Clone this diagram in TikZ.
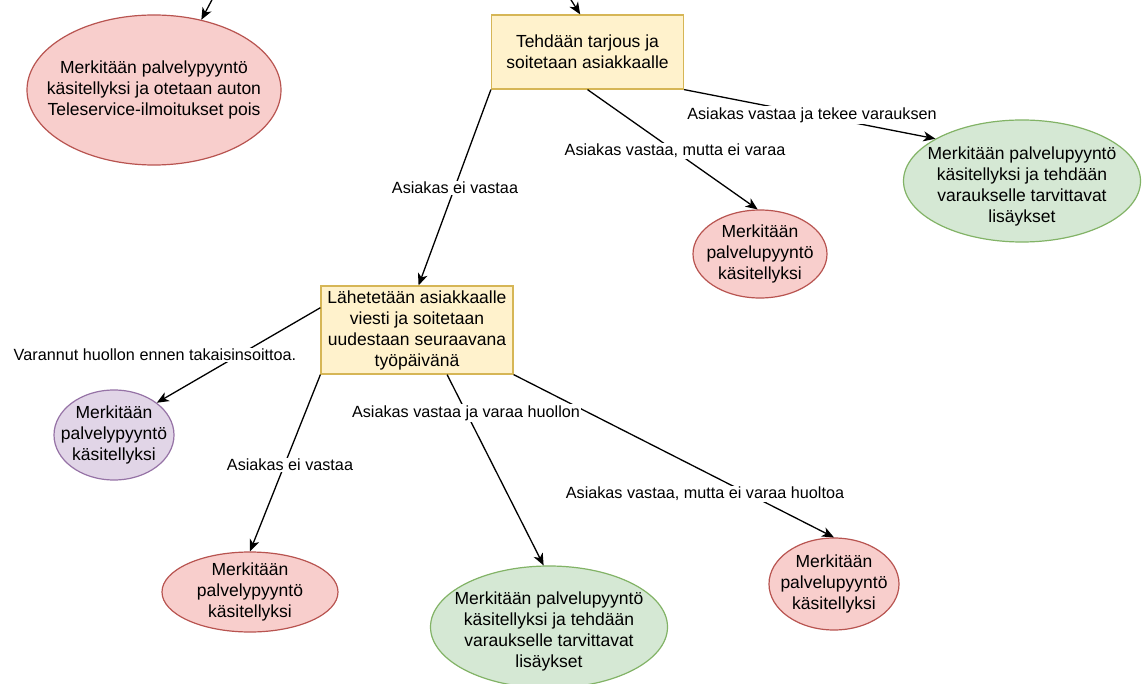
\documentclass[tikz,border=0pt]{standalone}
\usepackage{fontspec}
\setmainfont{Liberation Sans}
\usetikzlibrary{shapes.geometric,arrows.meta}
\definecolor{redF}{HTML}{F8CECC}
\definecolor{redD}{HTML}{B85450}
\definecolor{grnF}{HTML}{D5E8D4}
\definecolor{grnD}{HTML}{82B366}
\definecolor{yelF}{HTML}{FFF2CC}
\definecolor{yelD}{HTML}{D6B656}
\definecolor{purF}{HTML}{E1D5E7}
\definecolor{purD}{HTML}{9673A6}
\newcommand\nodefnt{\fontsize{17.5}{21}\selectfont}
\newcommand\lblfnt{\fontsize{16.2}{19}\selectfont}
\begin{document}
\begin{tikzpicture}[x=1pt,y=-1pt,
  txt/.style={align=center,font=\nodefnt,inner sep=0pt},
  box/.style={draw=yelD,fill=yelF,line width=1.2pt,minimum width=192pt,inner sep=0pt,align=center,font=\nodefnt},
  ell/.style={ellipse,line width=1.2pt,inner sep=0pt},
  redE/.style={ell,draw=redD,fill=redF},
  grnE/.style={ell,draw=grnD,fill=grnF},
  purE/.style={ell,draw=purD,fill=purF},
  lbl/.style={fill=white,inner sep=1.5pt,font=\lblfnt},
  conn/.style={draw,line width=1.3pt,-{Stealth[length=12pt,width=10pt,inset=3.5pt]}}
]
\useasboundingbox (0,0) rectangle (1142,684);
\fill[white] (0,0) rectangle (1142,684);

\node[redE,minimum width=254pt,minimum height=150pt,
  label={[txt]center:{Merkitään palvelypyyntö\\käsitellyksi ja otetaan auton\\Teleservice-ilmoitukset pois}}] (e1) at (154,90) {};
\node[box,minimum height=74pt] (b1) at (587.5,52) {Tehdään tarjous ja\\soitetaan asiakkaalle};
\node[grnE,minimum width=237pt,minimum height=122pt,
  label={[txt,yshift=-5pt]center:{Merkitään palvelupyyntö\\käsitellyksi ja tehdään\\varaukselle tarvittavat\\lisäykset}}] (g1) at (1022,181) {};
\node[redE,minimum width=134pt,minimum height=88pt,
  label={[txt]center:{Merkitään\\palvelupyyntö\\käsitellyksi}}] (r2) at (760,254) {};
\node[box,minimum height=88pt] (b2) at (417,330) {Lähetetään asiakkaalle\\viesti ja soitetaan\\uudestaan seuraavana\\työpäivänä};
\node[purE,minimum width=120pt,minimum height=90pt,
  label={[txt]center:{Merkitään\\palvelypyyntö\\käsitellyksi}}] (p1) at (114,435) {};
\node[redE,minimum width=176pt,minimum height=80pt,
  label={[txt]center:{Merkitään\\palvelypyyntö\\käsitellyksi}}] (r3) at (250,592) {};
\node[grnE,minimum width=237pt,minimum height=122pt,
  label={[txt,yshift=-4pt]center:{Merkitään palvelupyyntö\\käsitellyksi ja tehdään\\varaukselle tarvittavat\\lisäykset}}] (g2) at (549,627) {};
\node[redE,minimum width=130pt,minimum height=92pt,
  label={[txt]center:{Merkitään\\palvelupyyntö\\käsitellyksi}}] (r4) at (834,584) {};

\coordinate (in1) at (214,-4);
\coordinate (in2) at (566,-8);
\draw[conn] (in1) -- (e1.56);
\draw[conn] (in2) -- (b1.101);
\draw[conn] (b1.south) -- (r2.93);
\draw[conn] (b1.south east) -- (g1.154);
\draw[conn] (b1.south west) -- (b2.88);
\draw[conn] (b2.167) -- (p1.37);
\draw[conn] (b2.south west) -- (r3.north);
\draw[conn] (b2.-56) -- (g2.95);
\draw[conn] (b2.south east) -- (r4.north);

\node[lbl] (l1) at (675,151) {Asiakas vastaa, mutta ei varaa};
\node[lbl] (l2) at (812,115) {Asiakas vastaa ja tekee varauksen};
\node[lbl] (l3) at (455,188) {Asiakas ei vastaa};
\node[lbl] (l4) at (155,355) {Varannut huollon ennen takaisinsoittoa.};
\node[lbl] (l5) at (290,465) {Asiakas ei vastaa};
\node[lbl] (l6) at (466,413) {Asiakas vastaa ja varaa huollon};
\node[lbl] (l7) at (705,494) {Asiakas vastaa, mutta ei varaa huoltoa};
\end{tikzpicture}
\end{document}
